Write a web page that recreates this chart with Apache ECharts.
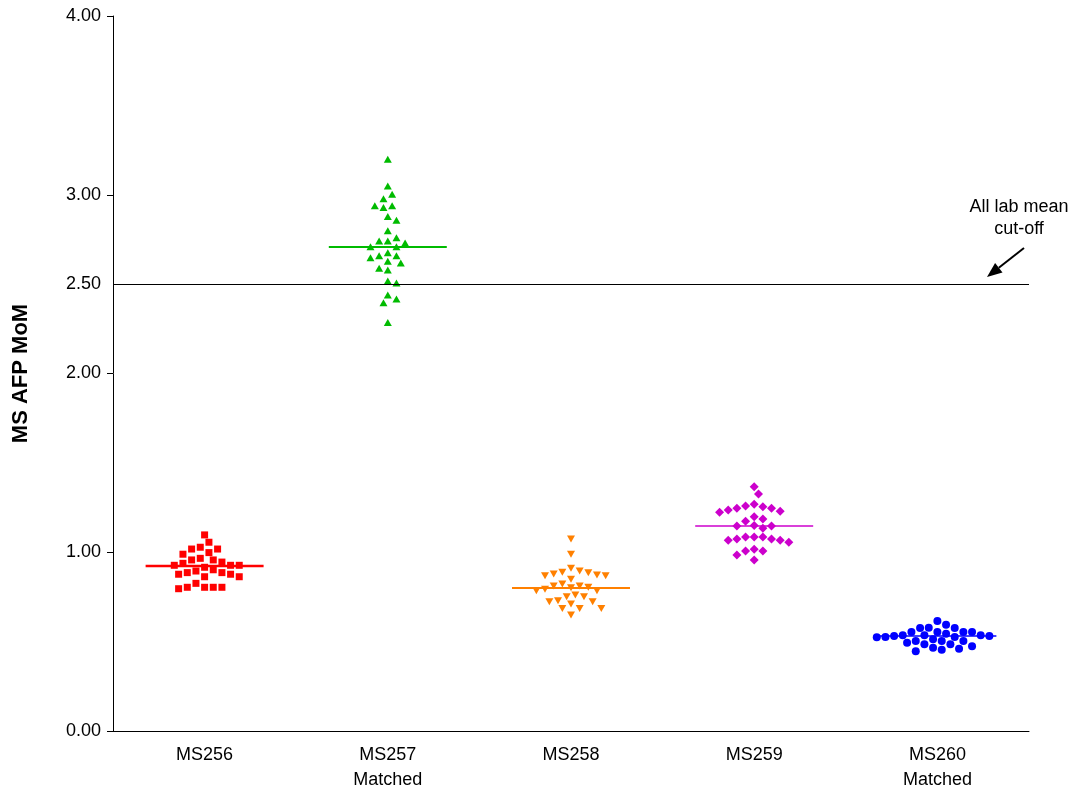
<!DOCTYPE html>
<html>
<head>
<meta charset="utf-8">
<script src="https://cdn.jsdelivr.net/npm/echarts@6/dist/echarts.min.js"></script>
<style>
  html, body { margin: 0; padding: 0; background: #ffffff; }
  #chart { width: 1079px; height: 795px; }
</style>
</head>
<body>
<div id="chart"></div>
<script>
// Sample labels on the x axis
const categories = ['MS256', 'MS257\nMatched', 'MS258', 'MS259', 'MS260\nMatched'];

// MS AFP MoM reported by each participating laboratory
const ms256 = [1.097, 1.056, 1.028, 1.018, 1.018, 0.989, 0.998, 0.966, 0.957, 0.938,
               0.927, 0.916, 0.927, 0.927, 0.945, 0.957, 0.902, 0.886, 0.877, 0.863,
               0.863, 0.877, 0.886, 0.895, 0.804, 0.804, 0.796, 0.804, 0.804, 0.826];
const ms257 = [3.198, 3.049, 3.003, 2.978, 2.939, 2.928, 2.939, 2.857, 2.879, 2.799,
               2.741, 2.730, 2.741, 2.760, 2.709, 2.709, 2.676, 2.659, 2.648, 2.659,
               2.628, 2.618, 2.589, 2.579, 2.506, 2.517, 2.417, 2.439, 2.396, 2.286];
const ms258 = [1.074, 0.989, 0.895, 0.886, 0.873, 0.869, 0.869, 0.878, 0.888, 0.910,
               0.849, 0.822, 0.804, 0.793, 0.811, 0.811, 0.785, 0.785, 0.802, 0.761,
               0.751, 0.751, 0.723, 0.723, 0.710, 0.729, 0.686, 0.686, 0.686, 0.649];
const ms259 = [1.367, 1.326, 1.268, 1.246, 1.255, 1.224, 1.236, 1.246, 1.259, 1.186,
               1.199, 1.173, 1.149, 1.147, 1.134, 1.147, 1.085, 1.074, 1.067, 1.056,
               1.067, 1.074, 1.085, 1.085, 1.007, 1.007, 0.985, 1.017, 0.957, 1.230];
const ms260 = [0.615, 0.595, 0.578, 0.576, 0.576, 0.554, 0.554, 0.544, 0.554, 0.554,
               0.531, 0.531, 0.526, 0.524, 0.526, 0.535, 0.535, 0.535, 0.485, 0.503,
               0.503, 0.494, 0.503, 0.513, 0.485, 0.474, 0.460, 0.446, 0.455, 0.466];

// Central value drawn as a horizontal bar for each sample
const groupCentres = [0.923, 2.708, 0.800, 1.147, 0.531];

// All-lab mean screening cut-off
const cutOff = 2.5;

// Y axis tick marks and tick labels
const yTickValues = [0, 1, 2, 3, 4];
const yLabelValues = [0, 1, 2, 2.5, 3, 4];

const groupValues = [ms256, ms257, ms258, ms259, ms260];

const colors = ['#ff0000', '#00bb00', '#ff8000', '#cc00cc', '#0000ff'];
const symbols = ['rect', 'triangle', 'triangle', 'diamond', 'circle'];
const symbolRotations = [0, 0, 180, 0, 0];
const symbolSizes = [7, [8, 7], [8, 7], 9, 8];
const centreWidths = [2.5, 2, 2, 1.5, 1.5];

const FONT = '"Liberation Sans", Arial, sans-serif';
const CHART_W = 1079, CHART_H = 795;
const GRID = { left: 113, right: 50, top: 16, bottom: 64 };
const Y_MIN = 0, Y_MAX = 4;
const plotW = CHART_W - GRID.left - GRID.right;
const plotH = CHART_H - GRID.top - GRID.bottom;
const pxPerY = plotH / (Y_MAX - Y_MIN);
const pxPerCat = plotW / categories.length;

// Swarm layout: each point keeps its value and is pushed sideways in
// half-slot steps until it no longer overlaps the points already placed.
// When both sides are free, the lighter side of the swarm is used.
const HALF_SLOT = 4.33;
const MIN_GAP = 8.4;
const CENTRE_HALF = 0.322;   // half width of the centre bar, in category units

function swarm(values, groupIndex) {
  const order = values.map((v, i) => i).sort((a, b) => values[b] - values[a]);
  const placed = [];
  const out = [];
  const free = (off, y) => placed.every(p => Math.hypot(p.x - off, p.y - y) >= MIN_GAP);
  for (const i of order) {
    const y = values[i] * pxPerY;
    const balance = placed.reduce((s, p) => s + p.x, 0);
    let x = 0;
    if (!free(0, y)) {
      for (let m = 1; m < 100; m++) {
        const d = m * HALF_SLOT;
        const left = free(-d, y), right = free(d, y);
        if (left && right) { x = balance > 0 ? -d : d; break; }
        if (left) { x = -d; break; }
        if (right) { x = d; break; }
      }
    }
    placed.push({ x, y });
    out.push([groupIndex + x / pxPerCat, values[i]]);
  }
  return out;
}

const series = [];
groupValues.forEach((vals, gi) => {
  series.push({
    type: 'scatter',
    xAxisIndex: 1,
    yAxisIndex: 0,
    data: swarm(vals, gi),
    symbol: symbols[gi],
    symbolRotate: symbolRotations[gi],
    symbolSize: symbolSizes[gi],
    itemStyle: { color: colors[gi], opacity: 1 },
    silent: true,
    z: 3
  });
  series.push({
    type: 'line',
    xAxisIndex: 1,
    yAxisIndex: 0,
    data: [[gi - CENTRE_HALF, groupCentres[gi]], [gi + CENTRE_HALF, groupCentres[gi]]],
    symbol: 'none',
    lineStyle: { color: colors[gi], width: centreWidths[gi] },
    silent: true,
    z: 4
  });
});

// cut-off line across the whole plot
series[0].markLine = {
  silent: true,
  symbol: ['none', 'none'],
  label: { show: false },
  lineStyle: { color: '#000000', width: 1, type: 'solid' },
  data: [{ yAxis: cutOff }],
  animation: false
};

const chart = echarts.init(document.getElementById('chart'), null, { renderer: 'canvas' });

// arrow pointing at the cut-off line
const tip = [987, 277], tail = [1024, 248];
const dx = tip[0] - tail[0], dy = tip[1] - tail[1];
const len = Math.hypot(dx, dy), ux = dx / len, uy = dy / len;
const headLen = 15, headHalf = 6;
const base = [tip[0] - ux * headLen, tip[1] - uy * headLen];

chart.setOption({
  animation: false,
  backgroundColor: '#ffffff',
  textStyle: { fontFamily: FONT },
  grid: { left: GRID.left, right: GRID.right, top: GRID.top, bottom: GRID.bottom, containLabel: false },
  xAxis: [
    {
      type: 'category',
      data: categories,
      boundaryGap: true,
      axisLine: { onZero: false, lineStyle: { color: '#000000', width: 1 } },
      axisTick: { show: false },
      axisLabel: { color: '#000000', fontSize: 18, fontFamily: FONT, margin: 12, lineHeight: 25 },
      splitLine: { show: false }
    },
    {
      type: 'value',
      min: -0.5,
      max: categories.length - 0.5,
      show: false
    }
  ],
  yAxis: {
    type: 'value',
    min: Y_MIN,
    max: Y_MAX,
    interval: 1,
    name: 'MS AFP MoM',
    nameLocation: 'middle',
    nameGap: 81,
    nameRotate: 90,
    nameTextStyle: { color: '#000000', fontSize: 22, fontWeight: 'bold', fontFamily: FONT },
    axisLine: { show: true, onZero: false, lineStyle: { color: '#000000', width: 1 } },
    axisTick: { show: true, length: 6, customValues: yTickValues, lineStyle: { color: '#000000' } },
    axisLabel: {
      color: '#000000', fontSize: 18, fontFamily: FONT, margin: 12,
      customValues: yLabelValues,
      formatter: v => Number(v).toFixed(2)
    },
    splitLine: { show: false }
  },
  series: series,
  graphic: [
    {
      type: 'text',
      x: 1019,
      y: 196,
      style: {
        text: 'All lab mean\ncut-off',
        align: 'center',
        verticalAlign: 'top',
        fill: '#000000',
        font: '18px ' + FONT,
        lineHeight: 22
      }
    },
    {
      type: 'group',
      children: [
        {
          type: 'line',
          shape: { x1: tail[0], y1: tail[1], x2: base[0], y2: base[1] },
          style: { stroke: '#000000', lineWidth: 2 }
        },
        {
          type: 'polygon',
          shape: {
            points: [
              tip,
              [base[0] - uy * headHalf, base[1] + ux * headHalf],
              [base[0] + uy * headHalf, base[1] - ux * headHalf]
            ]
          },
          style: { fill: '#000000' }
        }
      ]
    }
  ]
});
</script>
</body>
</html>
